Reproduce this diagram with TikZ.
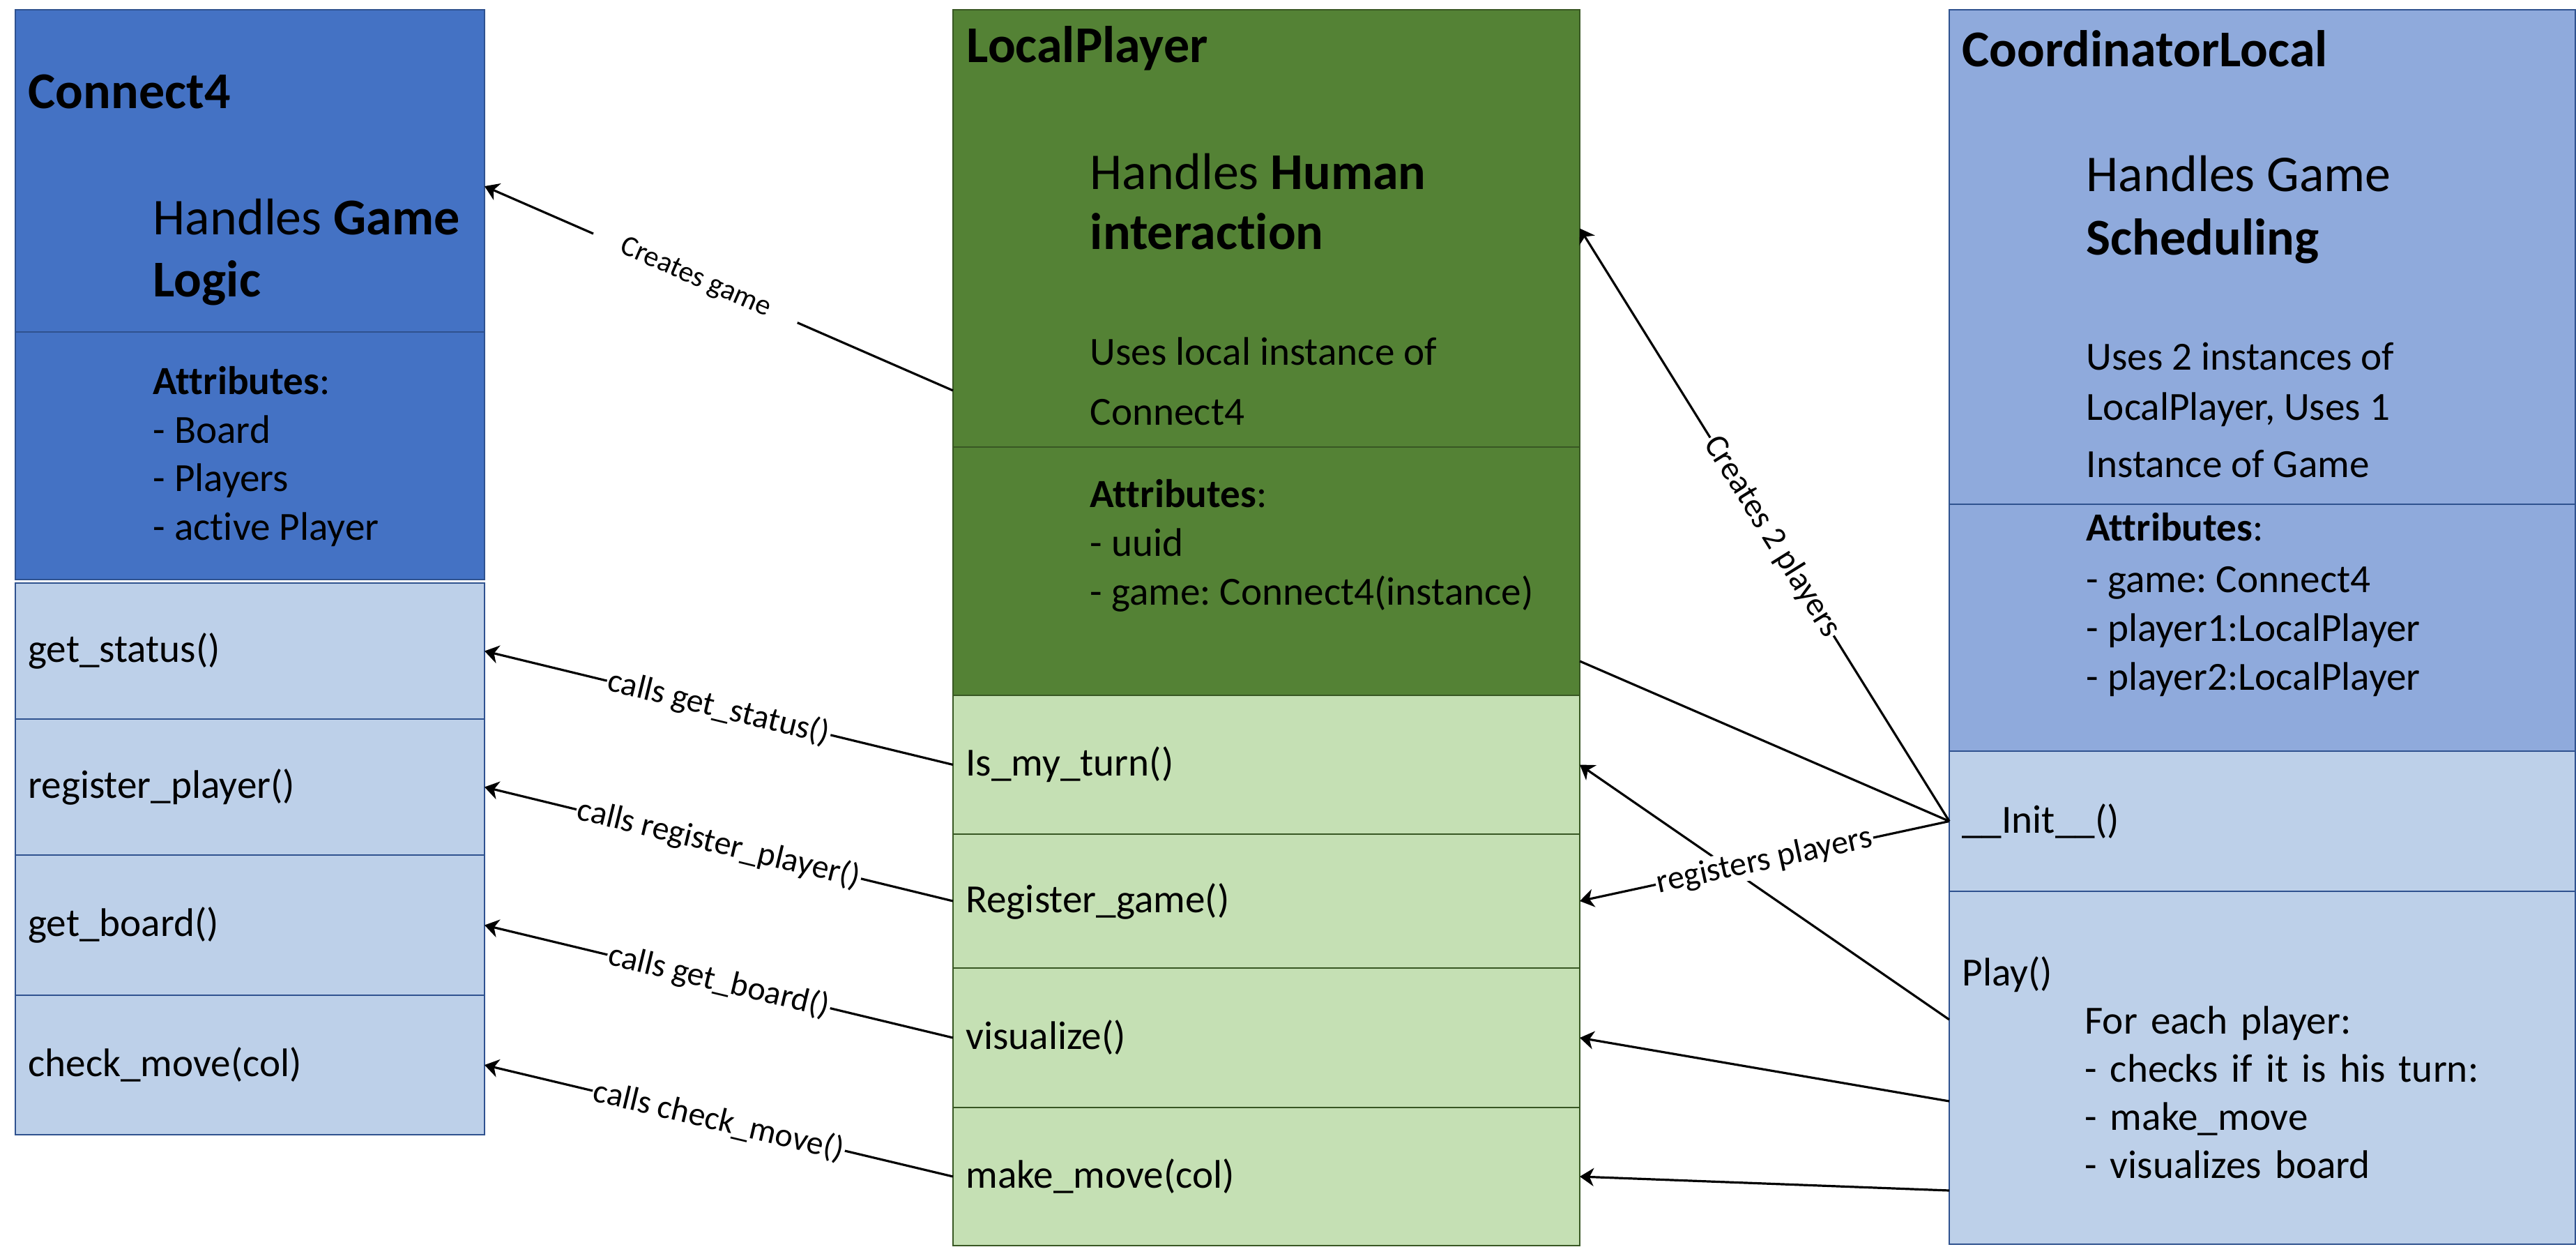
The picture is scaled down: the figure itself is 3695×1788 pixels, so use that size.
\documentclass[tikz,border=0pt]{standalone}
\usepackage{fontspec}
\setmainfont{Carlito}[Ligatures=NoCommon]
\frenchspacing
\usetikzlibrary{arrows.meta, positioning, calc}
\definecolor{gameblue}{RGB}{68,114,196}
\definecolor{methodblue}{RGB}{189,208,233}
\definecolor{playergreen}{RGB}{84,130,53}
\definecolor{methodgreen}{RGB}{197,224,180}
\definecolor{coordblue}{RGB}{143,170,220}
\definecolor{lineblue}{RGB}{47,82,143}
\definecolor{linegreen}{RGB}{56,87,35}

\begin{document}
\begin{tikzpicture}[x=0.25pt, y=-0.25pt,
  cell/.style={draw, line width=0.35pt, outer sep=0pt, inner ysep=0pt, inner xsep=4.6pt, align=left, font=\fontsize{14.3}{17.25}\selectfont},
  c4cell/.style={cell, draw=lineblue, minimum width=168.25pt, text width=159.05pt},
  lpcell/.style={cell, draw=linegreen, minimum width=224.75pt, text width=215.55pt},
  clcell/.style={cell, draw=lineblue, minimum width=224.5pt, text width=215.3pt},
  headtext/.style={anchor=base west, inner sep=0pt, font=\fontsize{18.5}{22}\selectfont\bfseries},
  desctext/.style={anchor=base west, inner sep=0pt, font=\fontsize{18.5}{22}\selectfont},
  listtext/.style={anchor=base west, inner sep=0pt, font=\fontsize{14.3}{17.25}\selectfont},
  call/.style={-{Stealth[length=5pt, width=6.5pt, inset=1.5pt]}, line width=0.8pt},
  lab/.style={fill=white, sloped, inner sep=0.5pt, font=\fontsize{12}{14}\selectfont}
]
  \useasboundingbox (0,0) rectangle (3695,1788);

  % Connect4
  \node[c4cell, fill=gameblue, anchor=north west, minimum height=115.5pt] (c4head) at (22,14) {};
  \node[c4cell, fill=gameblue, minimum height=88.75pt, below=0pt of c4head] (c4attr) {};
  \node[c4cell, fill=methodblue, minimum height=48.75pt, below=1.25pt of c4attr] (gStatus) {get\_status()};
  \node[c4cell, fill=methodblue, minimum height=48.75pt, below=0pt of gStatus] (gRegister) {register\_player()};
  \node[c4cell, fill=methodblue, minimum height=50.25pt, below=0pt of gRegister] (gBoard) {get\_board()};
  \node[c4cell, fill=methodblue, minimum height=50pt, below=0pt of gBoard] (gCheck) {check\_move(col)};

  \node[headtext] (c4Title) at (40,155) {Connect4};
  \node[desctext] (c4Desc1) at (219,336) {Handles \textbf{Game}};
  \node[desctext] (c4Desc2) at (219,425) {\textbf{Logic}};
  \node[listtext] (c4Att1) at (219,565) {\textbf{Attributes}:};
  \node[listtext] (c4Att2) at (219,635) {- Board};
  \node[listtext] (c4Att3) at (219,704) {- Players};
  \node[listtext] (c4Att4) at (219,774) {- active Player};

  % LocalPlayer
  \node[lpcell, fill=playergreen, anchor=north west, minimum height=156.75pt] (lpHead) at (1367,14) {};
  \node[lpcell, fill=playergreen, minimum height=89pt, below=0pt of lpHead] (lpAttr) {};
  \node[lpcell, fill=methodgreen, minimum height=49.75pt, below=0pt of lpAttr] (pTurn) {Is\_my\_turn()};
  \node[lpcell, fill=methodgreen, minimum height=48pt, below=0pt of pTurn] (pRegister) {Register\_game()};
  \node[lpcell, fill=methodgreen, minimum height=50pt, below=0pt of pRegister] (pVisual) {visualize()};
  \node[lpcell, fill=methodgreen, minimum height=49.5pt, below=0pt of pVisual] (pMove) {make\_move(col)};

  \node[headtext] (lpTitle) at (1386,89) {LocalPlayer};
  \node[desctext] (lpDesc1) at (1563,271) {Handles \textbf{Human}};
  \node[desctext] (lpDesc2) at (1563,357) {\textbf{interaction}};
  \node[listtext] (lpDesc3) at (1563,523) {Uses local instance of};
  \node[listtext] (lpDesc4) at (1563,609) {Connect4};
  \node[listtext] (lpAtt1) at (1563,727) {\textbf{Attributes}:};
  \node[listtext] (lpAtt2) at (1563,797) {- uuid};
  \node[listtext] (lpAtt3) at (1563,867) {- game: Connect4(instance)};

  % CoordinatorLocal
  \node[clcell, fill=coordblue, anchor=north west, minimum height=177.25pt] (clHead) at (2796,14) {};
  \node[clcell, fill=coordblue, minimum height=88.5pt, below=0pt of clHead] (clAttr) {};
  \node[clcell, fill=methodblue, minimum height=50.25pt, below=0pt of clAttr] (cInit) {\_\_Init\_\_()};
  \node[clcell, fill=methodblue, minimum height=126.5pt, below=0pt of cInit] (cPlay) {Play()\\
    \hspace*{44pt}For each player:\\
    \hspace*{44pt}- checks if it is his turn:\\
    \hspace*{44pt}- make\_move\\
    \hspace*{44pt}- visualizes board};

  \node[headtext] (clTitle) at (2814,95) {CoordinatorLocal};
  \node[desctext] (clDesc1) at (2992,274) {Handles Game};
  \node[desctext] (clDesc2) at (2992,365) {\textbf{Scheduling}};
  \node[listtext] (clDesc3) at (2992,530) {Uses 2 instances of};
  \node[listtext] (clDesc4) at (2992,602) {LocalPlayer, Uses 1};
  \node[listtext] (clDesc5) at (2992,684) {Instance of Game};
  \node[listtext] (clAtt1) at (2992,775) {\textbf{Attributes}:};
  \node[listtext] (clAtt2) at (2992,849) {- game: Connect4};
  \node[listtext] (clAtt3) at (2992,919) {- player1:LocalPlayer};
  \node[listtext] (clAtt4) at (2992,989) {- player2:LocalPlayer};

  % calls into Connect4
  \draw[call] ([yshift=20.25pt]lpHead.south west) -- node[lab, pos=0.55, inner xsep=11pt, font=\fontsize{10.5}{12}\selectfont] {Creates game} ([yshift=-5.5pt]c4head.east);
  \draw[call] (pTurn.west) -- node[lab] {calls get\_status()} (gStatus.east);
  \draw[call] (pRegister.west) -- node[lab] {calls register\_player()} (gRegister.east);
  \draw[call] (pVisual.west) -- node[lab] {calls get\_board()} (gBoard.east);
  \draw[call] (pMove.west) -- node[lab] {calls check\_move()} (gCheck.east);

  % calls into LocalPlayer
  \draw[line width=0.8pt] ([yshift=12.25pt]lpAttr.south east) -- (cInit.west);
  \draw[call] (cInit.west) -- node[lab, pos=0.48, font=\fontsize{12}{14}\selectfont] {Creates 2 players} (lpHead.east);
  \draw[call] ([yshift=-46pt]cPlay.north west) -- (pTurn.east);
  \draw[call] (cInit.west) -- node[lab] {registers players} (pRegister.east);
  \draw[call] ([yshift=-75.25pt]cPlay.north west) -- (pVisual.east);
  \draw[call] ([yshift=-107.25pt]cPlay.north west) -- (pMove.east);
\end{tikzpicture}
\end{document}
